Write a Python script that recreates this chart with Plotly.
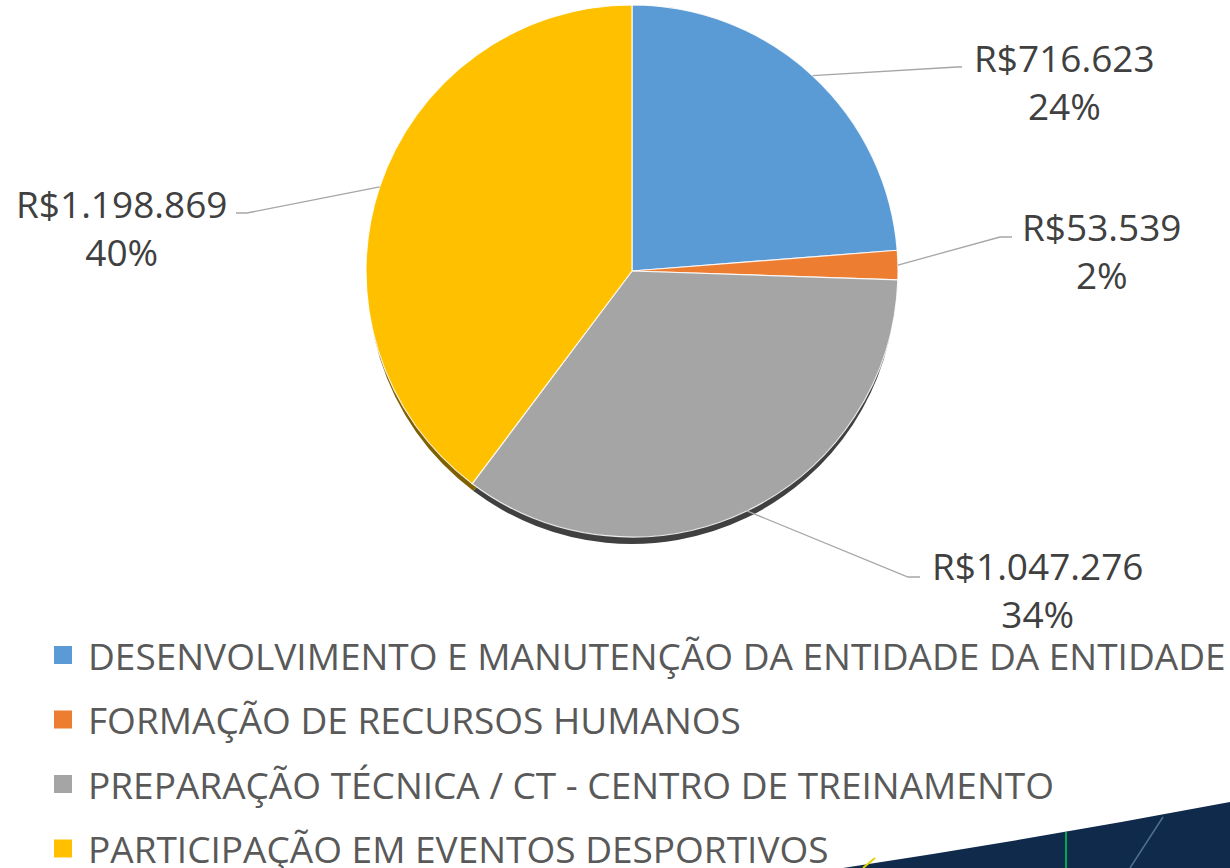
import math
import plotly.graph_objects as go

W, H = 1230, 868

categories = [
    "DESENVOLVIMENTO E MANUTENÇÃO DA ENTIDADE DA ENTIDADE",
    "FORMAÇÃO DE RECURSOS HUMANOS",
    "PREPARAÇÃO TÉCNICA / CT - CENTRO DE TREINAMENTO",
    "PARTICIPAÇÃO EM EVENTOS DESPORTIVOS",
]
values = [716623, 53539, 1047276, 1198869]
pct_labels = ["24%", "2%", "34%", "40%"]
colors = ["#5B9BD5", "#ED7D31", "#A5A5A5", "#FFC000"]
rim_colors = ["#2E5F8A", "#9C4A14", "#404040", "#7F6000"]

# layout constants (pixels)
CX, CY, R = 632, 271, 266
SHADOW = 9
label_centers = [(1064, 81), (1102, 250), (1038, 589), (122, 227)]
elbows = [((957, 67), (962, 67)), ((1000, 237), (1012, 237)),
          ((908, 577), (920, 577)), ((247, 213), (236, 213))]
legend_x_sq, legend_x_txt, legend_y0, legend_dy, sq = 54, 86, 655, 64.5, 18


def px(x):
    return x / W


def py(y):
    return 1 - y / H


def fmt(v):
    return "R$" + f"{v:,}".replace(",", ".")


fig = go.Figure()

# 3D rim (shadow pie)
fig.add_trace(go.Pie(
    labels=categories, values=values, sort=False, direction="clockwise",
    marker=dict(colors=rim_colors, line=dict(width=0)),
    textinfo="none", hoverinfo="skip", showlegend=False,
    domain=dict(x=[px(CX - R + 2), px(CX + R - 2)], y=[py(CY + SHADOW + R - 2), py(CY + SHADOW - R + 2)]),
))
fig.add_trace(go.Pie(
    labels=categories, values=values, sort=False, direction="clockwise",
    marker=dict(colors=colors, line=dict(color="rgba(255,255,255,0.85)", width=1.2)),
    textinfo="none", showlegend=False,
    domain=dict(x=[px(CX - R), px(CX + R)], y=[py(CY + R), py(CY - R)]),
))

shapes = []
annotations = []
total = sum(values)
cum = 0
for i, v in enumerate(values):
    mid = (cum + v / 2) / total * 2 * math.pi
    cum += v
    sx = CX + R * math.sin(mid)
    sy = CY - R * math.cos(mid)
    (ex, ey), (tx, ty) = elbows[i]
    shapes.append(dict(
        type="path", xref="paper", yref="paper",
        path=f"M {px(sx)},{py(sy)} L {px(ex)},{py(ey)} L {px(tx)},{py(ty)}",
        line=dict(color="#A6A6A6", width=1.3),
    ))
    lx, ly = label_centers[i]
    annotations.append(dict(
        x=px(lx), y=py(ly), xref="paper", yref="paper",
        text=f"{fmt(v)}<br>{pct_labels[i]}", showarrow=False,
        xanchor="center", yanchor="middle", align="center",
        font=dict(family="Open Sans", size=37, color="#404040"),
    ))

# manual legend
for i, c in enumerate(categories):
    yc = legend_y0 + i * legend_dy
    shapes.append(dict(
        type="rect", xref="paper", yref="paper",
        x0=px(legend_x_sq), x1=px(legend_x_sq + sq),
        y0=py(yc + sq / 2), y1=py(yc - sq / 2),
        fillcolor=colors[i], line=dict(width=0),
    ))
    annotations.append(dict(
        x=px(legend_x_txt), y=py(yc), xref="paper", yref="paper",
        text=c, showarrow=False, xanchor="left", yanchor="middle",
        font=dict(family="Open Sans", size=37, color="#595959"),
    ))

# decorative corner
shapes.append(dict(
    type="path", xref="paper", yref="paper",
    path=f"M {px(843)},{py(868)} Q {px(1040)},{py(838)} {px(1230)},{py(802)} L {px(1230)},{py(868)} Z",
    fillcolor="#0F2A4A", line=dict(width=0),
))
shapes.append(dict(type="line", xref="paper", yref="paper",
                   x0=px(875), y0=py(858), x1=px(863), y1=py(868),
                   line=dict(color="#E5D200", width=2)))
shapes.append(dict(type="line", xref="paper", yref="paper",
                   x0=px(1066), y0=py(832), x1=px(1066), y1=py(868),
                   line=dict(color="#00A651", width=2)))
shapes.append(dict(type="line", xref="paper", yref="paper",
                   x0=px(1163), y0=py(817), x1=px(1130), y1=py(868),
                   line=dict(color="#4F6F94", width=1.5)))

fig.update_layout(
    width=W, height=H, margin=dict(l=0, r=0, t=0, b=0),
    paper_bgcolor="white", plot_bgcolor="white",
    shapes=shapes, annotations=annotations, showlegend=False,
)

fig.write_html(
    "out.html",
    config={"displayModeBar": False},
    post_script="document.body.style.margin='0';document.body.style.overflow='hidden';",
)
